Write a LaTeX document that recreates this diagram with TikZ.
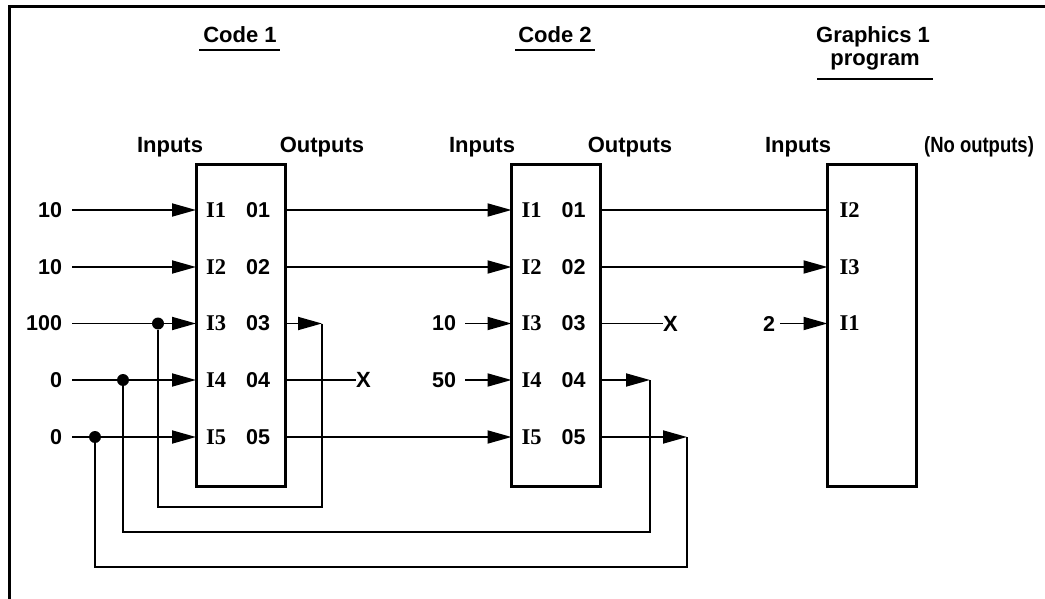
\documentclass[tikz,border=0pt]{standalone}
\usepackage{fontspec}
\setmainfont{Liberation Sans}
\newfontfamily\portserif{Liberation Serif}
\usetikzlibrary{arrows.meta}

\begin{document}
\begin{tikzpicture}[x=1pt,y=-1pt,
  lbl/.style={font=\fontsize{22}{26}\selectfont\bfseries, inner sep=0pt, outer sep=0pt},
  num/.style={font=\fontsize{21.5}{25}\selectfont\bfseries, inner sep=0pt, outer sep=0pt},
  iport/.style={font=\fontsize{22.5}{26}\selectfont\portserif\bfseries, inner sep=0pt, anchor=west},
  oport/.style={font=\fontsize{21.5}{25}\selectfont\bfseries, inner sep=0pt, anchor=west},
  module/.style={draw, line width=3pt, inner sep=0pt, outer sep=0pt,
                 minimum width=89pt, minimum height=321pt},
  wire/.style={line width=1.8pt},
  arr/.style={wire, -{Triangle[length=24pt,width=13pt]}},
  uline/.style={line width=1.8pt},
  junction/.style={circle, fill, inner sep=0pt, minimum size=12pt},
]
\useasboundingbox (0,0) rectangle (1045,599);

% outer frame (top and left edges only)
\draw[line width=3pt] (9,599) -- (9,6.5) -- (1045,6.5);

% row levels
\coordinate (r1) at (0,210);
\coordinate (r2) at (0,267);
\coordinate (r3) at (0,323.5);
\coordinate (r4) at (0,380);
\coordinate (r5) at (0,437);

% modules
\node[module] (c1) at (240.5,325.5) {};
\node[module] (c2) at (556,325.5) {};
\node[module] (g1) at (872,325.5) {};

% titles
\node[lbl, anchor=base] (t1) at (240,43) {Code 1};
\draw[uline] ([xshift=-4pt,yshift=-7pt]t1.base west) -- ([xshift=3pt,yshift=-7pt]t1.base east);
\node[lbl, anchor=base] (t2) at (555,43) {Code 2};
\draw[uline] ([xshift=-3pt,yshift=-7pt]t2.base west) -- ([xshift=3pt,yshift=-7pt]t2.base east);
\node[lbl, anchor=base] (t3) at (873,43) {Graphics 1};
\node[lbl, anchor=base] (t3b) at (875,66) {program};
\draw[uline] ([xshift=-13pt,yshift=-13pt]t3b.base west) -- ([xshift=13pt,yshift=-13pt]t3b.base east);

% column headings
\node[lbl, anchor=base] (h1) at (170,153) {Inputs};
\node[lbl, anchor=base] (h2) at (322,153) {Outputs};
\node[lbl, anchor=base] (h3) at (482,153) {Inputs};
\node[lbl, anchor=base] (h4) at (630,153) {Outputs};
\node[lbl, anchor=base] (h5) at (798,153) {Inputs};
\node[lbl, anchor=base] (h6) at (979,153) {\scalebox{0.84}[1]{(No outputs)}};

% port labels, Code 1 and Code 2
\foreach \k in {1,...,5}{
  \path (c1.west |- r\k) ++(10,0) node[iport] (c1i\k) {I\k};
  \path (c1.west |- r\k) ++(50,0) node[oport] (c1o\k) {0\k};
  \path (c2.west |- r\k) ++(10,0) node[iport] (c2i\k) {I\k};
  \path (c2.west |- r\k) ++(50,0) node[oport] (c2o\k) {0\k};
}
% port labels, Graphics 1
\path (g1.west |- r1) ++(12,0) node[iport] (gi2) {I2};
\path (g1.west |- r2) ++(12,0) node[iport] (gi3) {I3};
\path (g1.west |- r3) ++(12,0) node[iport] (gi1) {I1};

% constant inputs, Code 1
\node[num, anchor=east] (a1) at (62,210) {10};
\node[num, anchor=east] (a2) at (62,267) {10};
\node[num, anchor=east] (a3) at (62,323.5) {100};
\node[num, anchor=east] (a4) at (62,380) {0};
\node[num, anchor=east] (a5) at (62,437) {0};
\foreach \k in {1,...,5}{
  \draw[arr] ([xshift=10pt]a\k.east) -- (c1.west |- a\k.east);
}

% constant inputs, Code 2 and Graphics 1
\node[num, anchor=east] (b3) at (456,323.5) {10};
\node[num, anchor=east] (b4) at (456,380) {50};
\draw[arr] ([xshift=9pt]b3.east) -- (c2.west |- b3.east);
\draw[arr] ([xshift=9pt]b4.east) -- (c2.west |- b4.east);
\node[num, anchor=east] (e1) at (775,323.5) {2};
\draw[arr] ([xshift=5pt]e1.east) -- (g1.west |- e1.east);

% Code 1 -> Code 2
\draw[arr] (c1.east |- r1) -- (c2.west |- r1);
\draw[arr] (c1.east |- r2) -- (c2.west |- r2);
\draw[arr] (c1.east |- r5) -- (c2.west |- r5);

% Code 2 -> Graphics 1
\draw[wire] (c2.east |- r1) -- (g1.west |- r1);
\draw[arr] (c2.east |- r2) -- (g1.west |- r2);

% unused outputs
\node[lbl, anchor=west] (x1) at (356,380) {X};
\draw[wire] (c1.east |- r4) -- (x1.west);
\node[lbl, anchor=west] (x2) at (663,323.5) {X};
\draw[wire] (c2.east |- r3) -- (x2.west);

% junctions on the input lines
\node[junction] (d1) at (158,323.5) {};
\node[junction] (d2) at (123,380) {};
\node[junction] (d3) at (95,437) {};

% feedback loops
\coordinate (k1) at (322,323.5);
\coordinate (k2) at (650,380);
\coordinate (k3) at (687,437);
\coordinate (f1) at (0,507);
\coordinate (f2) at (0,532);
\coordinate (f3) at (0,567);

\draw[arr] (c1.east |- r3) -- (k1);
\draw[wire] (k1) -- (k1 |- f1) -- (d1 |- f1) -- (d1);
\draw[arr] (c2.east |- r4) -- (k2);
\draw[wire] (k2) -- (k2 |- f2) -- (d2 |- f2) -- (d2);
\draw[arr] (c2.east |- r5) -- (k3);
\draw[wire] (k3) -- (k3 |- f3) -- (d3 |- f3) -- (d3);
\end{tikzpicture}
\end{document}
